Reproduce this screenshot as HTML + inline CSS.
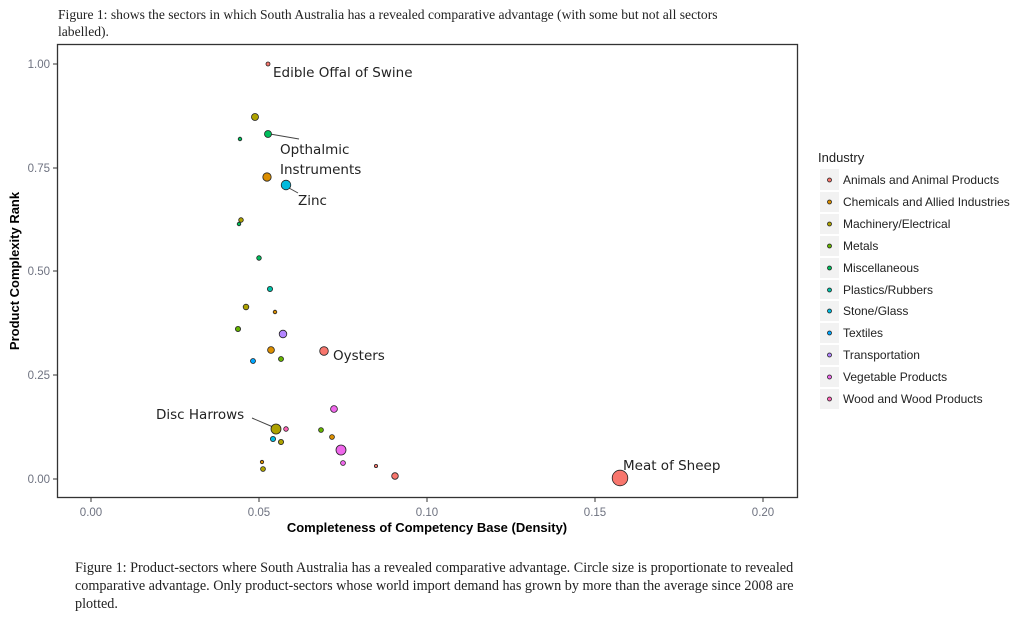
<!DOCTYPE html>
<html><head><meta charset="utf-8"><style>
html,body{margin:0;padding:0;background:#fff;}
svg{display:block;}
.ser{font-family:"Liberation Serif",serif;font-size:13.6px;fill:#222;}
.cap{font-family:"Liberation Serif",serif;font-size:14.2px;fill:#222;}
.tick{font-family:"Liberation Sans",sans-serif;font-size:11.5px;fill:#6e7280;}
.ax{font-family:"Liberation Sans",sans-serif;font-size:13px;font-weight:bold;fill:#000;}
.lab{font-family:"DejaVu Sans",sans-serif;font-size:13.5px;fill:#222;}
.leg{font-family:"Liberation Sans",sans-serif;font-size:12px;fill:#222;}
circle{stroke:#222;stroke-width:0.8;}
</style></head><body>
<svg width="1024" height="621" viewBox="0 0 1024 621" xmlns="http://www.w3.org/2000/svg">
<text class="ser" x="58" y="19">Figure 1: shows the sectors in which South Australia has a revealed comparative advantage (with some but not all sectors</text>
<text class="ser" x="58" y="36">labelled).</text>
<rect x="57.5" y="44.5" width="740" height="453" fill="#fff" stroke="#333" stroke-width="1.3"/>
<g class="tick" text-anchor="end">
<text x="50" y="68">1.00</text><text x="50" y="172">0.75</text><text x="50" y="275">0.50</text><text x="50" y="379">0.25</text><text x="50" y="483">0.00</text>
</g>
<g stroke="#333" stroke-width="1"><line x1="53" x2="57" y1="64" y2="64"/><line x1="53" x2="57" y1="168" y2="168"/><line x1="53" x2="57" y1="271" y2="271"/><line x1="53" x2="57" y1="375" y2="375"/><line x1="53" x2="57" y1="479" y2="479"/>
<line x1="91" x2="91" y1="498" y2="502"/><line x1="259" x2="259" y1="498" y2="502"/><line x1="427" x2="427" y1="498" y2="502"/><line x1="595" x2="595" y1="498" y2="502"/><line x1="763" x2="763" y1="498" y2="502"/></g>
<g class="tick" text-anchor="middle">
<text x="91" y="516">0.00</text><text x="259" y="516">0.05</text><text x="427" y="516">0.10</text><text x="595" y="516">0.15</text><text x="763" y="516">0.20</text>
</g>
<text class="ax" x="427" y="532" text-anchor="middle">Completeness of Competency Base (Density)</text>
<text class="ax" transform="translate(19,271) rotate(-90)" text-anchor="middle">Product Complexity Rank</text>
<g stroke="#444" stroke-width="1"><line x1="270" y1="134" x2="299" y2="139"/><line x1="289" y1="188" x2="298" y2="193"/><line x1="252" y1="418" x2="273" y2="427"/></g>
<circle cx="268" cy="64" r="2" fill="#F8766D"/>
<circle cx="255" cy="117" r="3.5" fill="#AEA200"/>
<circle cx="268" cy="134" r="3.5" fill="#00BD5C"/>
<circle cx="240" cy="139" r="1.8" fill="#00BD5C"/>
<circle cx="267" cy="177" r="4.2" fill="#DB8E00"/>
<circle cx="286" cy="185" r="4.8" fill="#00BADE"/>
<circle cx="241" cy="220" r="2.3" fill="#AEA200"/>
<circle cx="239" cy="224" r="1.8" fill="#00BD5C"/>
<circle cx="259" cy="258" r="2.3" fill="#00BD5C"/>
<circle cx="270" cy="289" r="2.6" fill="#00C1A7"/>
<circle cx="246" cy="307" r="2.8" fill="#AEA200"/>
<circle cx="275" cy="312" r="1.8" fill="#DB8E00"/>
<circle cx="238" cy="329" r="2.6" fill="#64B200"/>
<circle cx="283" cy="334" r="3.8" fill="#B385FF"/>
<circle cx="271" cy="350" r="3.4" fill="#DB8E00"/>
<circle cx="324" cy="351" r="4.3" fill="#F8766D"/>
<circle cx="253" cy="361" r="2.5" fill="#00A6FF"/>
<circle cx="281" cy="359" r="2.5" fill="#64B200"/>
<circle cx="334" cy="409" r="3.4" fill="#EF67EB"/>
<circle cx="276" cy="429" r="5" fill="#AEA200"/>
<circle cx="286" cy="429" r="2.3" fill="#FF63B6"/>
<circle cx="321" cy="430" r="2.4" fill="#64B200"/>
<circle cx="273" cy="439" r="2.6" fill="#00BADE"/>
<circle cx="281" cy="442" r="2.6" fill="#AEA200"/>
<circle cx="332" cy="437" r="2.4" fill="#DB8E00"/>
<circle cx="341" cy="450" r="5" fill="#EF67EB"/>
<circle cx="262" cy="462" r="1.7" fill="#DB8E00"/>
<circle cx="263" cy="469" r="2.4" fill="#AEA200"/>
<circle cx="343" cy="463" r="2.4" fill="#EF67EB"/>
<circle cx="376" cy="466" r="1.6" fill="#F8766D"/>
<circle cx="395" cy="476" r="3.3" fill="#F8766D"/>
<circle cx="620" cy="478" r="7.8" fill="#F8766D"/>
<g class="lab">
<text x="273" y="77">Edible Offal of Swine</text>
<text x="280" y="154">Opthalmic</text>
<text x="280" y="174">Instruments</text>
<text x="298" y="205">Zinc</text>
<text x="333" y="360">Oysters</text>
<text x="156" y="419">Disc Harrows</text>
<text x="623" y="470">Meat of Sheep</text>
</g>
<text x="818" y="162" font-family="Liberation Sans,sans-serif" font-size="13" fill="#222">Industry</text>
<g>
<rect x="820" y="169" width="19" height="240" fill="#f2f2f2"/>
<g stroke="#fff" stroke-width="2"><line x1="820" x2="839" y1="191" y2="191"/><line x1="820" x2="839" y1="213" y2="213"/><line x1="820" x2="839" y1="235" y2="235"/><line x1="820" x2="839" y1="257" y2="257"/><line x1="820" x2="839" y1="279" y2="279"/><line x1="820" x2="839" y1="300" y2="300"/><line x1="820" x2="839" y1="322" y2="322"/><line x1="820" x2="839" y1="344" y2="344"/><line x1="820" x2="839" y1="366" y2="366"/><line x1="820" x2="839" y1="388" y2="388"/></g>
<circle cx="829.5" cy="180" r="2" fill="#F8766D"/>
<circle cx="829.5" cy="202" r="2" fill="#DB8E00"/>
<circle cx="829.5" cy="224" r="2" fill="#AEA200"/>
<circle cx="829.5" cy="246" r="2" fill="#64B200"/>
<circle cx="829.5" cy="268" r="2" fill="#00BD5C"/>
<circle cx="829.5" cy="290" r="2" fill="#00C1A7"/>
<circle cx="829.5" cy="311" r="2" fill="#00BADE"/>
<circle cx="829.5" cy="333" r="2" fill="#00A6FF"/>
<circle cx="829.5" cy="355" r="2" fill="#B385FF"/>
<circle cx="829.5" cy="377" r="2" fill="#EF67EB"/>
<circle cx="829.5" cy="399" r="2" fill="#FF63B6"/>
</g>
<g class="leg">
<text x="843" y="184">Animals and Animal Products</text>
<text x="843" y="206">Chemicals and Allied Industries</text>
<text x="843" y="228">Machinery/Electrical</text>
<text x="843" y="250">Metals</text>
<text x="843" y="272">Miscellaneous</text>
<text x="843" y="294">Plastics/Rubbers</text>
<text x="843" y="315">Stone/Glass</text>
<text x="843" y="337">Textiles</text>
<text x="843" y="359">Transportation</text>
<text x="843" y="381">Vegetable Products</text>
<text x="843" y="403">Wood and Wood Products</text>
</g>
<g class="cap">
<text x="75" y="572">Figure 1: Product-sectors where South Australia has a revealed comparative advantage. Circle size is proportionate to revealed</text>
<text x="75" y="590">comparative advantage. Only product-sectors whose world import demand has grown by more than the average since 2008 are</text>
<text x="75" y="608">plotted.</text>
</g>
</svg>
</body></html>
